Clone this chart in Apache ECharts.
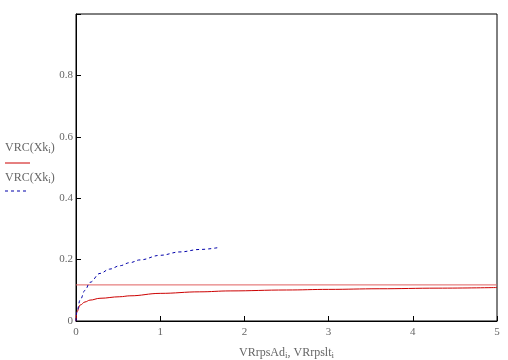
<!DOCTYPE html>
<html><head><meta charset="utf-8">
<script src="https://cdn.jsdelivr.net/npm/echarts@6/dist/echarts.min.js"></script>
<style>html,body{margin:0;padding:0;background:#fff}#c{width:508px;height:360px}</style>
</head><body><div id="c"></div>
<script>
const redX = [0, 0.01, 0.05, 0.107, 0.166, 0.285, 0.52, 0.64, 1.0, 1.47, 1.83, 2.5, 3.0, 3.6, 4.3, 5.0];
const redY = [0, 0.03, 0.052, 0.062, 0.068, 0.074, 0.079, 0.082, 0.09, 0.095, 0.098, 0.101, 0.103, 0.105, 0.107, 0.109];
const blueX = [0, 0.01, 0.05, 0.107, 0.166, 0.285, 0.40, 0.52, 0.64, 0.76, 1.0, 1.235, 1.47, 1.71];
const blueY = [0, 0.03, 0.069, 0.10, 0.126, 0.155, 0.169, 0.18, 0.19, 0.199, 0.214, 0.225, 0.233, 0.24];
const hLineX = [0, 5];
const hLineY = [0.1176, 0.1176];
const xTicks = [0, 1, 2, 3, 4, 5];
const yTicks = [0, 0.2, 0.4, 0.6, 0.8];

const zip = (a, b) => a.map((v, i) => [v, b[i]]);
const chart = echarts.init(document.getElementById('c'));
const serif = '"Liberation Serif", "DejaVu Serif", serif';
const grey = '#666';
chart.setOption({
  animation: false,
  grid: { left: 76, right: 11, top: 14, bottom: 39, show: true, borderColor: '#000', borderWidth: 1,
    containLabel: false, outerBoundsMode: 'none' },
  xAxis: {
    type: 'value', min: 0, max: 5, interval: 1,
    axisLine: { lineStyle: { color: '#000' } },
    axisTick: { inside: true, length: 5, lineStyle: { color: '#000' } },
    splitLine: { show: false },
    axisLabel: { color: grey, fontFamily: serif, fontSize: 11, margin: 6,
      formatter: v => xTicks.includes(v) ? String(v) : '' },
    name: '{a|VRrpsAd}{s|i}{a|, VRrpslt}{s|i}',
    nameLocation: 'middle', nameGap: 24,
    nameTextStyle: { rich: {
      a: { color: grey, fontFamily: serif, fontSize: 12 },
      s: { color: grey, fontFamily: serif, fontSize: 9, verticalAlign: 'bottom', padding: [6, 0, 0, 0] } } }
  },
  yAxis: {
    type: 'value', min: 0, max: 1, interval: 0.2,
    axisLine: { lineStyle: { color: '#000' } },
    axisTick: { inside: true, length: 5, lineStyle: { color: '#000' } },
    splitLine: { show: false },
    axisLabel: { color: grey, fontFamily: serif, fontSize: 11, margin: 3,
      formatter: v => yTicks.some(t => Math.abs(t - v) < 1e-9) ? String(+v.toFixed(1)) : '' }
  },
  series: [
    { type: 'line', data: zip(hLineX, hLineY), symbol: 'none', lineStyle: { color: '#e06060', width: 1 } },
    { type: 'line', data: zip(redX, redY), smooth: 0.4, smoothMonotone: 'x', symbol: 'none', lineStyle: { color: '#cc0000', width: 1 } },
    { type: 'line', data: zip(blueX, blueY), smooth: 0.4, smoothMonotone: 'x', symbol: 'none', lineStyle: { color: '#0000aa', width: 1, type: [3, 3] } }
  ],
  graphic: [
    { type: 'text', left: 5, top: 142, style: { rich: {
        a: { fill: grey, fontFamily: serif, fontSize: 12 },
        s: { fill: grey, fontFamily: serif, fontSize: 9, padding: [6, 0, 0, 0] } },
        text: '{a|VRC(Xk}{s|i}{a|)}' } },
    { type: 'line', shape: { x1: 5, y1: 163, x2: 30, y2: 163 }, style: { stroke: '#cc0000', lineWidth: 1 } },
    { type: 'text', left: 5, top: 172, style: { rich: {
        a: { fill: grey, fontFamily: serif, fontSize: 12 },
        s: { fill: grey, fontFamily: serif, fontSize: 9, padding: [6, 0, 0, 0] } },
        text: '{a|VRC(Xk}{s|i}{a|)}' } },
    { type: 'line', shape: { x1: 5, y1: 191, x2: 26, y2: 191 }, style: { stroke: '#0000aa', lineWidth: 1, lineDash: [3, 3] } }
  ]
});
</script></body></html>
